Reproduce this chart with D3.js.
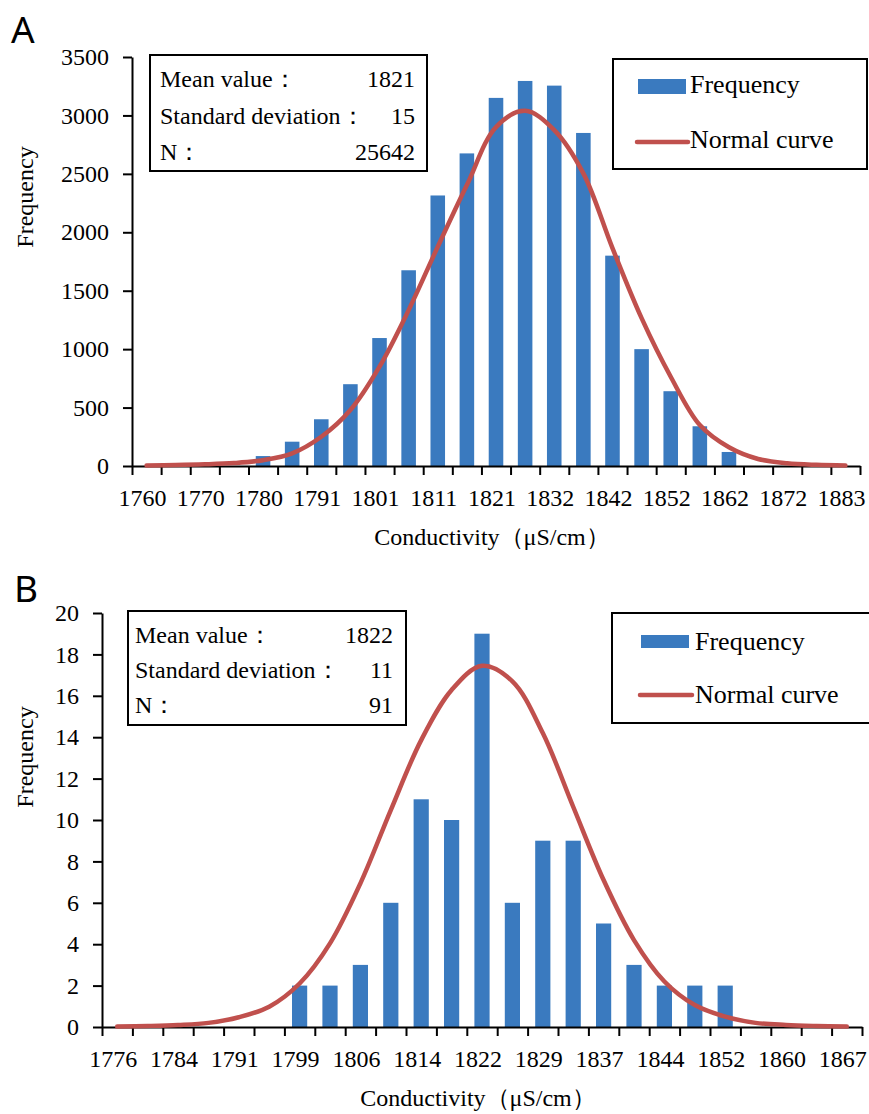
<!DOCTYPE html>
<html>
<head>
<meta charset="utf-8">
<script src="https://cdn.jsdelivr.net/npm/d3@7"></script>
</head>
<body style="margin: 0; background: #fff;">
<svg id="chart-svg" width="869" height="1114" style="display: block;"></svg>
<script>
// histogram bins (25 per panel), only every second bin is labelled
const TICKS_A = ['1760', '1770', '1780', '1791', '1801', '1811', '1821', '1832', '1842', '1852', '1862', '1872', '1883'];
const FREQ_A = [0, 0, 0, 0, 85, 208, 400, 700, 1095, 1675, 2315, 2675, 3150, 3295, 3255, 2850, 1800, 1000, 640, 340, 120, 0, 0, 0, 0];
const NORMAL_A = [5, 8, 14, 25, 50, 108, 250, 479, 850, 1334, 1876, 2404, 2900, 3040, 2875, 2504, 1864, 1265, 764, 350, 160, 60, 23, 10, 5];
const STATS_A = ['1821', '15', '25642'];

const TICKS_B = ['1776', '1784', '1791', '1799', '1806', '1814', '1822', '1829', '1837', '1844', '1852', '1860', '1867'];
const FREQ_B = [0, 0, 0, 0, 0, 0, 2, 2, 3, 6, 11, 10, 19, 6, 9, 9, 5, 3, 2, 2, 2, 0, 0, 0, 0];
const NORMAL_B = [0.02, 0.05, 0.1, 0.2, 0.47, 0.98, 2.1, 4.04, 6.94, 10.48, 13.86, 16.28, 17.45, 16.7, 14.2, 10.64, 7.1, 4.2, 2.2, 1.06, 0.5, 0.2, 0.1, 0.05, 0.02];
const STATS_B = ['1822', '11', '91'];

const STAT_NAMES = ['Mean value：', 'Standard deviation：', 'N：'];
const LEGEND_NAMES = ['Frequency', 'Normal curve'];
const X_TITLE = 'Conductivity（μS/cm）';
const Y_TITLE = 'Frequency';

const BAR_COLOR = '#3a7abf';
const LINE_COLOR = '#c0504d';
const SERIF = "'Liberation Serif'";

let svgElement = d3.select('#chart-svg');

drawPanel(svgElement, {
	letter: 'A',
	letterPos: [11, 43],
	ticks: TICKS_A,
	freq: FREQ_A,
	normal: NORMAL_A,
	stats: STATS_A,
	yMax: 3500,
	yStep: 500,
	plot: { left: 132, right: 860, top: 57, bottom: 466 },
	yTitleY: 197,
	statsBox: { x: 150, y: 55, w: 277, h: 116, textX: 160, valueX: 415, lines: [ 87, 124, 160 ] },
	legend: { x: 613, y: 59, w: 254, h: 110, swatch: [ 638, 79, 48, 15 ], textX: 690, lines: [ 93, 148 ], lineY: 142, lineX: [ 637, 688 ] }
});

drawPanel(svgElement, {
	letter: 'B',
	letterPos: [14, 602],
	ticks: TICKS_B,
	freq: FREQ_B,
	normal: NORMAL_B,
	stats: STATS_B,
	yMax: 20,
	yStep: 2,
	plot: { left: 102, right: 862, top: 613, bottom: 1027 },
	yTitleY: 757,
	statsBox: { x: 128, y: 611, w: 278, h: 114, textX: 135, valueX: 393, lines: [ 643, 678, 713 ] },
	legend: { x: 612, y: 613, w: 262, h: 110, swatch: [ 641, 635, 48, 13 ], textX: 695, lines: [ 650, 703 ], lineY: 695, lineX: [ 640, 692 ] }
});

function addText(g, x, y, str, size, anchor = 'start') {
	return g
		.append('text')
		.attr('x', x)
		.attr('y', y)
		.attr('text-anchor', anchor)
		.style('font-family', SERIF)
		.style('font-size', size + 'px')
		.style('fill', '#000')
		.text(str);
}

function drawPanel(svg, cfg) {
	const p = cfg.plot;
	const bins = d3.range(cfg.freq.length);
	const g = svg.append('g');

	const xScale = d3.scaleBand().domain(bins).range([ p.left, p.right ]).paddingInner(0.5).paddingOuter(0.25);
	const edgeScale = d3.scaleLinear().domain([ 0, bins.length ]).range([ p.left, p.right ]);
	const yScale = d3.scaleLinear().domain([ 0, cfg.yMax ]).range([ p.bottom, p.top ]);

	// bars
	g
		.selectAll('rect.bar')
		.data(cfg.freq)
		.enter()
		.append('rect')
		.attr('class', 'bar')
		.attr('x', (d, i) => xScale(i))
		.attr('y', (d) => yScale(d))
		.attr('width', xScale.bandwidth())
		.attr('height', (d) => p.bottom - yScale(d))
		.attr('fill', BAR_COLOR);

	// y axis
	const yAxis = d3
		.axisLeft(yScale)
		.tickValues(d3.range(0, cfg.yMax + cfg.yStep / 2, cfg.yStep))
		.tickFormat(d3.format('d'))
		.tickSize(9)
		.tickSizeOuter(0)
		.tickPadding(14);
	const yG = g.append('g').attr('transform', 'translate(' + p.left + ', 0)').call(yAxis);
	yG.selectAll('text').style('font-family', SERIF).style('font-size', '24px').style('fill', '#000');
	yG.selectAll('line, path').attr('stroke', '#000').attr('stroke-width', 2);

	// x axis: tick marks on bin edges, labels on every second bin
	const xEdgeAxis = d3.axisBottom(edgeScale).tickValues(d3.range(bins.length + 1)).tickFormat('').tickSize(9).tickSizeOuter(0);
	const xEdgeG = g.append('g').attr('transform', 'translate(0, ' + p.bottom + ')').call(xEdgeAxis);
	xEdgeG.selectAll('line, path').attr('stroke', '#000').attr('stroke-width', 2);

	const xLabelAxis = d3
		.axisBottom(xScale)
		.tickValues(bins.filter((i) => i % 2 == 0))
		.tickFormat((i) => cfg.ticks[i / 2])
		.tickSize(0)
		.tickPadding(23);
	const xLabelG = g.append('g').attr('transform', 'translate(-4, ' + p.bottom + ')').call(xLabelAxis);
	xLabelG.selectAll('text').style('font-family', SERIF).style('font-size', '24px').style('fill', '#000');
	xLabelG.select('path').remove();

	// normal curve
	const line = d3
		.line()
		.x((d, i) => xScale(i) + xScale.bandwidth() / 2)
		.y((d) => yScale(d))
		.curve(d3.curveCatmullRom);
	g
		.append('path')
		.datum(cfg.normal)
		.attr('d', line)
		.attr('fill', 'none')
		.attr('stroke', LINE_COLOR)
		.attr('stroke-width', 4.5)
		.attr('stroke-linecap', 'round');

	// axis titles
	addText(g, (p.left + p.right) / 2 - 4, p.bottom + 79, X_TITLE, 24, 'middle');
	addText(g, 0, 0, Y_TITLE, 24, 'middle').attr('transform', 'translate(33, ' + cfg.yTitleY + ') rotate(-90)');

	g
		.append('text')
		.attr('x', cfg.letterPos[0])
		.attr('y', cfg.letterPos[1])
		.style('font-family', "'Noto Sans'")
		.style('font-size', '37px')
		.text(cfg.letter);

	// stats box
	const sb = cfg.statsBox;
	g
		.append('rect')
		.attr('x', sb.x)
		.attr('y', sb.y)
		.attr('width', sb.w)
		.attr('height', sb.h)
		.attr('fill', '#fff')
		.attr('stroke', '#000')
		.attr('stroke-width', 2);
	STAT_NAMES.forEach((name, i) => {
		addText(g, sb.textX, sb.lines[i], name, 24);
		addText(g, sb.valueX, sb.lines[i], cfg.stats[i], 24, 'end');
	});

	// legend
	const lg = cfg.legend;
	g
		.append('rect')
		.attr('x', lg.x)
		.attr('y', lg.y)
		.attr('width', lg.w)
		.attr('height', lg.h)
		.attr('fill', '#fff')
		.attr('stroke', '#000')
		.attr('stroke-width', 2);
	g
		.append('rect')
		.attr('x', lg.swatch[0])
		.attr('y', lg.swatch[1])
		.attr('width', lg.swatch[2])
		.attr('height', lg.swatch[3])
		.attr('fill', BAR_COLOR);
	g
		.append('line')
		.attr('x1', lg.lineX[0])
		.attr('x2', lg.lineX[1])
		.attr('y1', lg.lineY)
		.attr('y2', lg.lineY)
		.attr('stroke', LINE_COLOR)
		.attr('stroke-width', 4.5)
		.attr('stroke-linecap', 'round');
	LEGEND_NAMES.forEach((name, i) => {
		addText(g, lg.textX, lg.lines[i], name, 26);
	});
}
</script>
</body>
</html>
